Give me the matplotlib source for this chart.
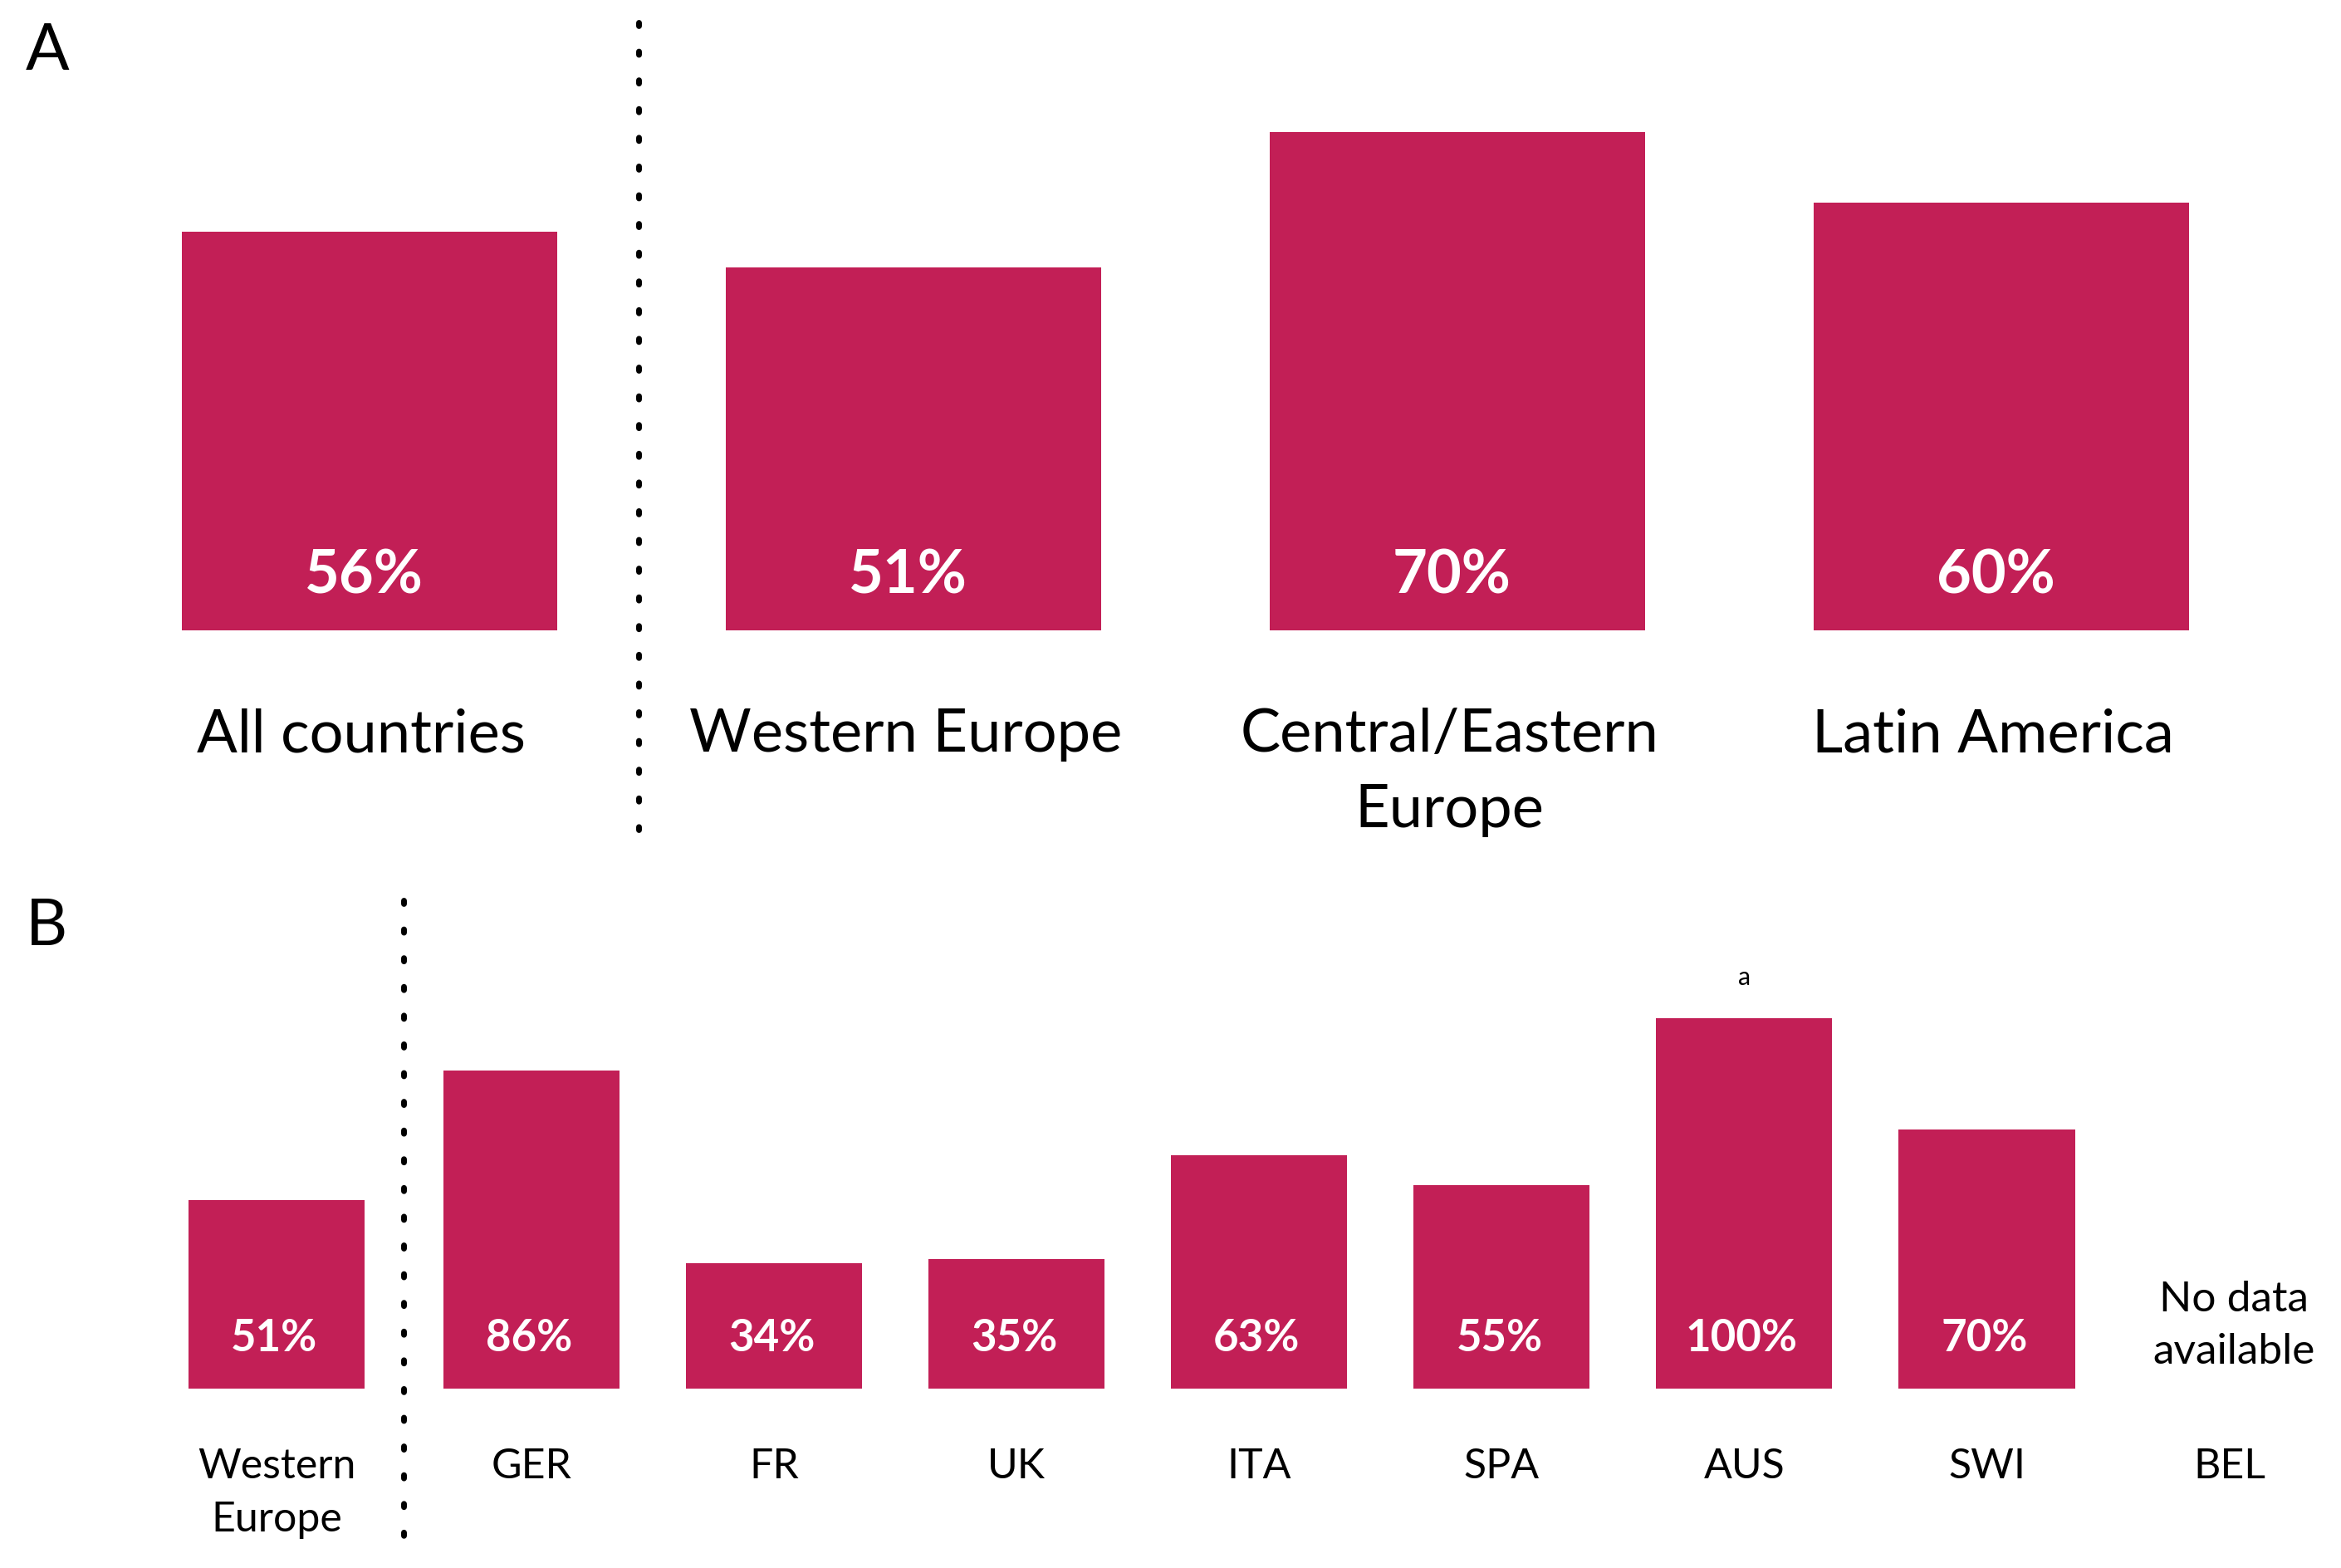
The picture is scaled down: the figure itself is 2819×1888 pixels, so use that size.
import matplotlib
matplotlib.use('Agg')

import numpy as np
import matplotlib.pyplot as plt

plt.rcParams['font.family'] = ['Lato', 'DejaVu Sans']

# panel A: regions
regions = ['All countries', 'Western Europe', 'Central/Eastern\nEurope', 'Latin America']
region_share = [56, 51, 70, 60]

# panel B: western european countries (BEL has no data)
countries = ['Western\nEurope', 'GER', 'FR', 'UK', 'ITA', 'SPA', 'AUS', 'SWI', 'BEL']
country_share = [51, 86, 34, 35, 63, 55, 100, 70, None]
footnote_country = 'AUS'

bar_color = '#C21F56'
dots = (0, (0.57, 4.41))

fig = plt.figure(figsize=(28.19, 18.88), dpi=100)

# ---- panel A ----
axA = fig.add_axes([0, 1 - 422 / 1050, 1, 422 / 1050])
xa = np.arange(len(regions))
axA.bar(xa, region_share, width=0.69, color=bar_color)
axA.set_xlim(-0.68, 3.625)
axA.set_ylim(0, 88.5)
axA.axis('off')
for x, label, v in zip(xa, regions, region_share):
    axA.text(x - 0.01, 7.6, f'{v}%', ha='center', va='center', color='white',
             fontsize=52, fontweight='bold')
    axA.text(x - 0.015, -10.9, label, ha='center', va='top', fontsize=52,
             linespacing=1.48, clip_on=False)
axA.plot([0.495, 0.495], [85.3, -28.0], color='black', lw=5, linestyle=dots,
         dash_capstyle='round', clip_on=False)

# ---- panel B ----
axB = fig.add_axes([0, 1 - 930 / 1050, 1, 330 / 1050])
xb = np.arange(len(countries), dtype=float)
xb[0] -= 0.05
has_data = [v is not None for v in country_share]
axB.bar(xb[has_data], [v for v in country_share if v is not None], width=0.726, color=bar_color)
axB.set_xlim(-1.19, 8.46)
axB.set_ylim(0, 133)
axB.axis('off')
for x, label, v in zip(xb, countries, country_share):
    if v is None:
        axB.text(x + 0.02, 16.9, 'No data\navailable', ha='center', va='center', fontsize=37,
                 linespacing=1.46)
    else:
        axB.text(x - 0.01, 13.7, f'{v}%', ha='center', va='center', color='white',
                 fontsize=38, fontweight='bold')
        if label == footnote_country:
            axB.text(x, v + 11, 'a', ha='center', va='center', fontsize=22)
    axB.text(x, -15.8, label, ha='center', va='top', fontsize=36,
             linespacing=1.49, clip_on=False)
xdiv = (xb[0] + xb[1]) / 2
axB.plot([xdiv, xdiv], [131.9, -40.5], color='black', lw=5, linestyle=dots,
         dash_capstyle='round', clip_on=False)

fig.text(32 / 1568, 1 - 35 / 1050, 'A', ha='center', va='center', fontsize=56)
fig.text(31 / 1568, 1 - 621 / 1050, 'B', ha='center', va='center', fontsize=56)

fig.savefig('out.png', dpi=100, facecolor='white')
